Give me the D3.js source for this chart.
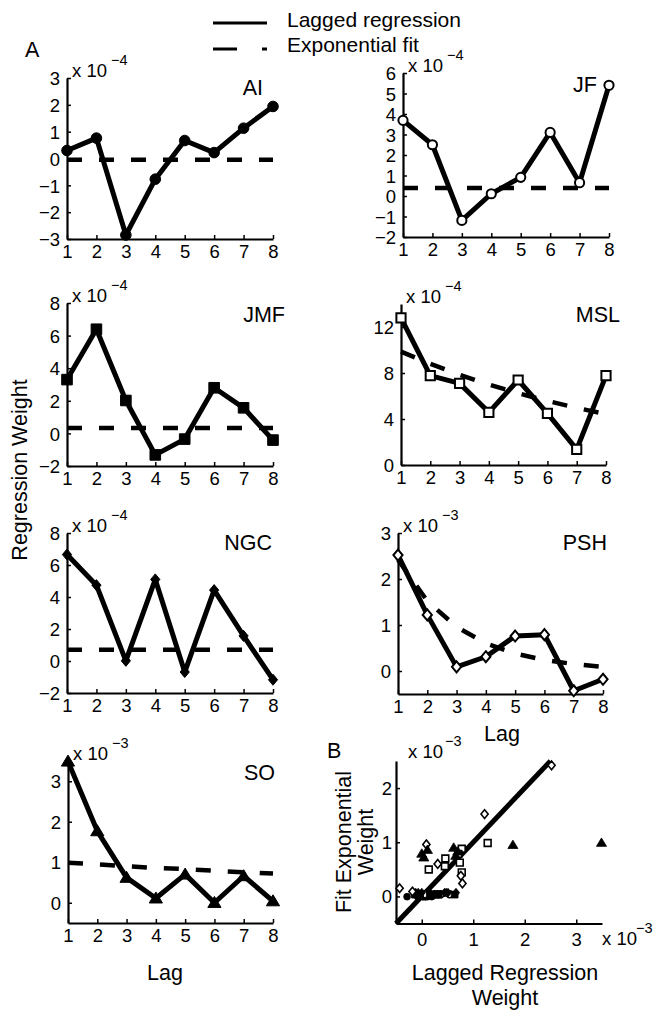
<!DOCTYPE html>
<html><head><meta charset="utf-8">
<script src="https://cdn.jsdelivr.net/npm/d3@7"></script>
<style>
body{margin:0;background:#fff}
text{font-family:"Liberation Sans",Arial,Helvetica,sans-serif;fill:#000}
</style>
</head><body>
<svg id="c" width="664" height="1022"></svg>
<script>
// ---------------- DATA ----------------
const lags = [1, 2, 3, 4, 5, 6, 7, 8];
const subjects = ["AI", "JF", "JMF", "MSL", "NGC", "PSH", "SO"];
const exponents = [-4, -4, -4, -4, -4, -3, -3];

const aiWeights  = [0.3, 0.76, -2.85, -0.77, 0.67, 0.22, 1.13, 1.94];
const aiFit      = [-0.05, -0.05, -0.05, -0.05, -0.05, -0.05, -0.05, -0.05];
const jfWeights  = [3.69, 2.5, -1.19, 0.11, 0.91, 3.1, 0.65, 5.4];
const jfFit      = [0.39, 0.39, 0.39, 0.39, 0.39, 0.39, 0.39, 0.39];
const jmfWeights = [3.3, 6.39, 2.02, -1.32, -0.35, 2.8, 1.57, -0.41];
const jmfFit     = [0.33, 0.33, 0.33, 0.33, 0.33, 0.33, 0.33, 0.33];
const mslWeights = [12.8, 7.77, 7.1, 4.58, 7.39, 4.49, 1.36, 7.77];
const mslFit     = [9.86, 8.8, 7.85, 7.0, 6.24, 5.57, 4.97, 4.43];
const ngcWeights = [6.65, 4.74, 0.01, 5.1, -0.69, 4.43, 1.57, -1.17];
const ngcFit     = [0.7, 0.7, 0.7, 0.7, 0.7, 0.7, 0.7, 0.7];
const pshWeights = [2.52, 1.22, 0.09, 0.31, 0.76, 0.79, -0.43, -0.18];
const pshFit     = [2.42, 1.52, 0.96, 0.6, 0.38, 0.24, 0.15, 0.09];
const soWeights  = [3.49, 1.77, 0.62, 0.11, 0.7, 0.0, 0.66, 0.04];
const soFit      = [0.99, 0.95, 0.9, 0.86, 0.83, 0.79, 0.75, 0.72];

const weightSeries = [aiWeights, jfWeights, jmfWeights, mslWeights, ngcWeights, pshWeights, soWeights];
const fitSeries    = [aiFit, jfFit, jmfFit, mslFit, ngcFit, pshFit, soFit];

const yDomains = [[-3, 3], [-2, 6], [-2, 8], [0, 14], [-2, 8], [-0.5, 3], [-0.5, 3.5]];
const yTicks = [[-3, -2, -1, 0, 1, 2, 3], [-2, -1, 0, 1, 2, 3, 4, 5, 6], [-2, 0, 2, 4, 6, 8],
                [0, 4, 8, 12], [-2, 0, 2, 4, 6, 8], [0, 1, 2, 3], [0, 1, 2, 3]];
const markerTypes  = ["circle", "circle", "square", "square", "diamond", "diamond", "triangle"];
const markerFilled = [true, false, true, false, true, false, true];

const scatterXDomain = [-0.5, 3.5];
const scatterYDomain = [-0.5, 2.5];
const scatterXTicks = [0, 1, 2, 3];
const scatterYTicks = [0, 1, 2];
const scatterExponent = -3;
const identityLine = [-0.5, 2.5];

const legendLabels = ["Lagged regression", "Exponential fit"];

// ---------------- LAYOUT ----------------
const frames = [
  {x0: 67,  x1: 273, y0: 78,  y1: 239, lx: 263, ly: 95},
  {x0: 403, x1: 609, y0: 73,  y1: 237, lx: 597, ly: 92},
  {x0: 67,  x1: 273, y0: 303, y1: 466, lx: 285, ly: 322},
  {x0: 401, x1: 606, y0: 304, y1: 465, lx: 620, ly: 322},
  {x0: 67,  x1: 273, y0: 533, y1: 693, lx: 272, ly: 550},
  {x0: 398, x1: 603, y0: 533, y1: 694, lx: 607, ly: 550},
  {x0: 68,  x1: 273, y0: 761, y1: 923, lx: 275, ly: 780}
];
const bFrame = {x0: 396, x1: 602, y0: 761, y1: 923.5};

const svg = d3.select("#c");
const FONT_TICK = 18.5, FONT_BIG = 21.5;

function markerPath(type, s) {
  if (type === "circle") return d3.symbol(d3.symbolCircle, Math.PI * s * s)();
  if (type === "square") return `M${-s},${-s}h${2*s}v${2*s}h${-2*s}Z`;
  if (type === "diamond") return `M0,${-s*1.2}L${s},0L0,${s*1.2}L${-s},0Z`;
  return `M0,${-s*1.15}L${s*1.2},${s*0.85}L${-s*1.2},${s*0.85}Z`;
}

function styleAxis(g, size) {
  g.select(".domain").attr("stroke", "#000").attr("stroke-width", 2.2);
  g.selectAll(".tick line").attr("stroke", "#000").attr("stroke-width", 1.5);
  g.selectAll(".tick text").style("font-size", size + "px")
    .style("font-family", '"Liberation Sans",Arial,sans-serif').attr("fill", "#000");
}

function multiplier(x, y, exp, gap) {
  svg.append("text").attr("x", x).attr("y", y).style("font-size", "18.5px").text("x 10");
  svg.append("text").attr("x", x + (gap || 39)).attr("y", y - 12).style("font-size", "14.5px")
    .text("\u2212" + Math.abs(exp));
}

const fmt = d => d3.format("")(d).replace("-", "\u2212");

// ---------------- PANELS A ----------------
subjects.forEach((name, i) => {
  const f = frames[i];
  const x = d3.scaleLinear().domain([1, 8]).range([f.x0, f.x1]);
  const y = d3.scaleLinear().domain(yDomains[i]).range([f.y1, f.y0]);

  const gx = svg.append("g").attr("transform", `translate(0,${f.y1})`)
    .call(d3.axisBottom(x).tickValues(lags).tickSizeInner(-4).tickSizeOuter(0).tickPadding(6).tickFormat(d3.format("d")));
  styleAxis(gx, FONT_TICK);
  const gy = svg.append("g").attr("transform", `translate(${f.x0},0)`)
    .call(d3.axisLeft(y).tickValues(yTicks[i]).tickSizeInner(-4).tickSizeOuter(0).tickPadding(7).tickFormat(fmt));
  styleAxis(gy, FONT_TICK);
  gy.selectAll(".tick text").attr("dy", "0.36em");

  const line = d3.line().x((d, j) => x(lags[j])).y(d => y(d));
  svg.append("path").datum(fitSeries[i]).attr("d", line)
    .attr("fill", "none").attr("stroke", "#000").attr("stroke-width", 4.5)
    .attr("stroke-dasharray", "15,17");
  svg.append("path").datum(weightSeries[i]).attr("d", line)
    .attr("fill", "none").attr("stroke", "#000").attr("stroke-width", 5)
    .attr("stroke-linejoin", "round");

  const s = markerTypes[i] === "triangle" ? 5.5 : (markerTypes[i] === "diamond" ? 4.6 : (markerFilled[i] ? 5.3 : 4.6));
  svg.append("g").selectAll("path").data(weightSeries[i]).join("path")
    .attr("transform", (d, j) => `translate(${x(lags[j])},${y(d)})`)
    .attr("d", markerPath(markerTypes[i], s))
    .attr("fill", markerFilled[i] ? "#000" : "#fff")
    .attr("stroke", "#000").attr("stroke-width", markerFilled[i] ? 1 : 2);

  svg.append("text").attr("x", f.lx).attr("y", f.ly).attr("text-anchor", "end")
    .style("font-size", FONT_BIG + "px").text(name);
  multiplier(f.x0 + 5, f.y0 - 1, exponents[i]);
});

// ---------------- PANEL B ----------------
{
  const f = bFrame;
  const x = d3.scaleLinear().domain(scatterXDomain).range([f.x0, f.x1]);
  const y = d3.scaleLinear().domain(scatterYDomain).range([f.y1, f.y0]);
  const gx = svg.append("g").attr("transform", `translate(0,${f.y1})`)
    .call(d3.axisBottom(x).tickValues(scatterXTicks).tickSizeInner(-4).tickSizeOuter(0).tickPadding(9).tickFormat(d3.format("d")));
  styleAxis(gx, 18.5);
  const gy = svg.append("g").attr("transform", `translate(${f.x0},0)`)
    .call(d3.axisLeft(y).tickValues(scatterYTicks).tickSizeInner(-4).tickSizeOuter(0).tickPadding(4).tickFormat(d3.format("d")));
  styleAxis(gy, 18.5);

  svg.append("line").attr("x1", x(identityLine[0])).attr("y1", y(identityLine[0]))
    .attr("x2", x(identityLine[1])).attr("y2", y(identityLine[1]))
    .attr("stroke", "#000").attr("stroke-width", 5);

  subjects.forEach((name, i) => {
    const k = Math.pow(10, exponents[i] - scatterExponent);
    const pts = weightSeries[i].map((w, j) => [w * k, fitSeries[i][j] * k]);
    const s = markerTypes[i] === "triangle" ? 4.2 : (markerTypes[i] === "diamond" ? 3.6 : 3.4);
    svg.append("g").selectAll("path").data(pts).join("path")
      .attr("transform", d => `translate(${x(d[0])},${y(d[1])})`)
      .attr("d", markerPath(markerTypes[i], s))
      .attr("fill", markerFilled[i] ? "#000" : "#fff")
      .attr("stroke", "#000").attr("stroke-width", markerFilled[i] ? 0.8 : 1.6);
  });

  multiplier(408, 758, scatterExponent, 37);
  multiplier(602, 945, scatterExponent, 34);

  svg.append("text").attr("transform", "translate(351,842) rotate(-90)").attr("text-anchor", "middle")
    .style("font-size", FONT_BIG + "px").text("Fit Exponential");
  svg.append("text").attr("transform", "translate(373,842) rotate(-90)").attr("text-anchor", "middle")
    .style("font-size", FONT_BIG + "px").text("Weight");
  svg.append("text").attr("x", 505).attr("y", 980).attr("text-anchor", "middle")
    .style("font-size", FONT_BIG + "px").text("Lagged Regression");
  svg.append("text").attr("x", 505).attr("y", 1005).attr("text-anchor", "middle")
    .style("font-size", FONT_BIG + "px").text("Weight");
}

// ---------------- LABELS & LEGEND ----------------
svg.append("text").attr("x", 25).attr("y", 57).style("font-size", FONT_BIG + "px").text("A");
svg.append("text").attr("x", 327).attr("y", 758).style("font-size", FONT_BIG + "px").text("B");
svg.append("text").attr("transform", "translate(27,470) rotate(-90)").attr("text-anchor", "middle")
  .style("font-size", FONT_BIG + "px").text("Regression Weight");
svg.append("text").attr("x", 502).attr("y", 741).attr("text-anchor", "middle")
  .style("font-size", FONT_BIG + "px").text("Lag");
svg.append("text").attr("x", 165).attr("y", 980).attr("text-anchor", "middle")
  .style("font-size", FONT_BIG + "px").text("Lag");

svg.append("line").attr("x1", 213).attr("x2", 267).attr("y1", 23).attr("y2", 23)
  .attr("stroke", "#000").attr("stroke-width", 3);
svg.append("line").attr("x1", 213).attr("x2", 267).attr("y1", 49).attr("y2", 49)
  .attr("stroke", "#000").attr("stroke-width", 3).attr("stroke-dasharray", "24,25,5");
svg.append("text").attr("x", 287).attr("y", 27).style("font-size", "21px").text(legendLabels[0]);
svg.append("text").attr("x", 287).attr("y", 52).style("font-size", "21px").text(legendLabels[1]);
</script>
</body></html>
